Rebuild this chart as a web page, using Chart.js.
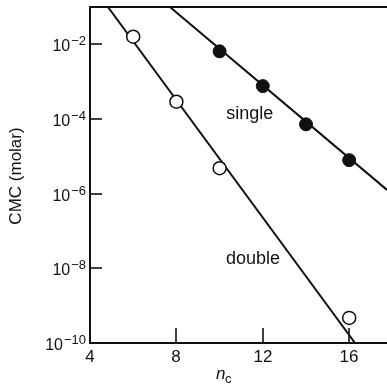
<!DOCTYPE html>
<html>
<head>
<meta charset="utf-8">
<title>CMC vs n_c</title>
<script src="https://cdn.jsdelivr.net/npm/chart.js@4.4.1/dist/chart.umd.min.js"></script>
<style>
  html, body { margin: 0; padding: 0; background: #fff; }
  #wrap { width: 387px; height: 385px; }
</style>
</head>
<body>
<div id="wrap"><canvas id="cmcChart" width="387" height="385"></canvas></div>
<script>
const singleNc = [10, 12, 14, 16];
const singleCmc = [6.5e-3, 7.6e-4, 7.2e-5, 7.9e-6];
const doubleNc = [6, 8, 10, 16];
const doubleCmc = [1.6e-2, 2.9e-4, 4.8e-6, 4.7e-10];

// fitted straight lines (end points)
const singleFitNc = [7.7, 17.75];
const singleFitCmc = [1e-1, 1.26e-6];
const doubleFitNc = [4.83, 16.27];
const doubleFitCmc = [1e-1, 1e-10];

// axes
const xTicks = [4, 8, 12, 16];
const yTickExps = [-2, -4, -6, -8, -10];

const FONT = "'Liberation Sans', Arial, Helvetica, sans-serif";

function toPoints(xs, ys) {
  return xs.map((x, i) => ({ x: x, y: ys[i] }));
}

// draws axes, tick marks, labels and annotations using the chart scales
const axesPlugin = {
  id: 'axesPlugin',
  afterDraw(chart) {
    const ctx = chart.ctx;
    const area = chart.chartArea;
    const xs = chart.scales.x;
    const ys = chart.scales.y;

    ctx.save();
    ctx.strokeStyle = '#111';
    ctx.fillStyle = '#111';
    ctx.lineWidth = 2;
    ctx.lineCap = 'butt';

    // frame: left, bottom, top
    ctx.beginPath();
    ctx.moveTo(area.left, area.top);
    ctx.lineTo(area.left, area.bottom);
    ctx.moveTo(area.left - 1, area.bottom);
    ctx.lineTo(area.right, area.bottom);
    ctx.moveTo(area.left - 1, area.top);
    ctx.lineTo(area.right, area.top);
    ctx.stroke();

    // y ticks (inward) and labels 10^n
    ctx.lineWidth = 1.6;
    yTickExps.forEach(e => {
      const py = Math.round(ys.getPixelForValue(Math.pow(10, e)));
      if (e !== -10) {
        ctx.beginPath();
        ctx.moveTo(area.left, py);
        ctx.lineTo(area.left + 12, py);
        ctx.stroke();
      }
      const expText = '\u2212' + Math.abs(e);
      ctx.font = '13px ' + FONT;
      const expW = ctx.measureText(expText).width;
      const right = area.left - 4;
      ctx.textAlign = 'left';
      ctx.textBaseline = 'alphabetic';
      ctx.fillText(expText, right - expW, py + 1);
      ctx.font = '16px ' + FONT;
      const baseW = ctx.measureText('10').width;
      ctx.fillText('10', right - expW - baseW - 1, py + 7);
    });

    // x ticks (inward) and labels
    xTicks.forEach(v => {
      const px = Math.round(xs.getPixelForValue(v));
      if (v !== xs.min) {
        ctx.beginPath();
        ctx.moveTo(px, area.bottom);
        ctx.lineTo(px, area.bottom - 15);
        ctx.stroke();
      }
      ctx.font = '17px ' + FONT;
      ctx.textAlign = 'center';
      ctx.textBaseline = 'middle';
      ctx.fillText(String(v), px, area.bottom + 14);
    });

    // x title: n_c
    ctx.textAlign = 'left';
    ctx.textBaseline = 'alphabetic';
    ctx.font = 'italic 17px ' + FONT;
    ctx.fillText('n', 216, 379);
    ctx.font = '13px ' + FONT;
    ctx.fillText('c', 225, 383);

    // y title
    ctx.save();
    ctx.translate(16, 176);
    ctx.rotate(-Math.PI / 2);
    ctx.font = '17px ' + FONT;
    ctx.textAlign = 'center';
    ctx.textBaseline = 'middle';
    ctx.fillText('CMC (molar)', 0, 0);
    ctx.restore();

    // series labels
    ctx.font = '18px ' + FONT;
    ctx.textAlign = 'center';
    ctx.textBaseline = 'middle';
    ctx.fillText('single', xs.getPixelForValue(11.4), ys.getPixelForValue(1.4e-4));
    ctx.fillText('double', xs.getPixelForValue(11.55), ys.getPixelForValue(1.75e-8));

    ctx.restore();
  }
};

const chart = new Chart(document.getElementById('cmcChart'), {
  type: 'scatter',
  data: {
    datasets: [
      {
        label: 'single',
        data: toPoints(singleNc, singleCmc),
        pointRadius: 6.5,
        pointBackgroundColor: '#111',
        pointBorderColor: '#111',
        pointBorderWidth: 1,
        showLine: false
      },
      {
        label: 'double',
        data: toPoints(doubleNc, doubleCmc),
        pointRadius: 6.5,
        pointBackgroundColor: '#fff',
        pointBorderColor: '#111',
        pointBorderWidth: 1.5,
        showLine: false
      },
      {
        label: 'single fit',
        data: toPoints(singleFitNc, singleFitCmc),
        showLine: true,
        borderColor: '#111',
        borderWidth: 2,
        pointRadius: 0
      },
      {
        label: 'double fit',
        data: toPoints(doubleFitNc, doubleFitCmc),
        showLine: true,
        borderColor: '#111',
        borderWidth: 2,
        pointRadius: 0
      }
    ]
  },
  options: {
    responsive: false,
    animation: false,
    devicePixelRatio: 1,
    layout: {
      autoPadding: false,
      padding: { left: 90, top: 7, right: 0, bottom: 42 }
    },
    plugins: {
      legend: { display: false },
      tooltip: { enabled: false }
    },
    scales: {
      x: {
        type: 'linear',
        display: false,
        min: 4,
        max: 17.75
      },
      y: {
        type: 'logarithmic',
        display: false,
        min: 1e-10,
        max: 1e-1
      }
    }
  },
  plugins: [axesPlugin]
});
</script>
</body>
</html>
